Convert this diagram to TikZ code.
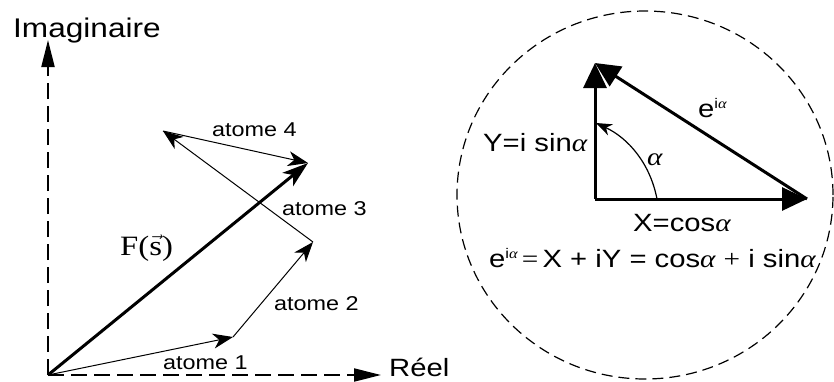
\documentclass[tikz,border=0pt]{standalone}
\usepackage{fontspec}
\setmainfont[FakeStretch=1.17]{Liberation Sans}
\newfontfamily\serifF[FakeStretch=1.17]{Liberation Serif}
\newcommand{\alp}{{\serifF\itshape α}}
\newcommand{\eia}{e\raisebox{9pt}{\fontsize{14}{14}\selectfont i\alp}}
\usetikzlibrary{arrows.meta,shapes.geometric}
\tikzset{
  axis/.style={line width=2pt, dash pattern=on 16pt off 7pt, -{Triangle[length=27pt,width=13pt]}},
  atom/.style={line width=1pt, -{Stealth[length=20pt,width=15pt,inset=6pt]}},
  resultant/.style={line width=3pt, -{Stealth[length=26pt,width=17pt,inset=7pt]}},
  tri/.style={line width=3pt, -{Triangle[length=25pt,width=23pt]}},
  lbl/.style={font=\fontsize{20}{22}\selectfont, inner sep=0pt, anchor=base west},
  rlbl/.style={font=\fontsize{25}{27}\selectfont, inner sep=0pt, anchor=base west},
  big/.style={font=\fontsize{27}{29}\selectfont, inner sep=0pt, anchor=base west},
}
\begin{document}
\begin{tikzpicture}[x=1pt,y=-1pt]
\useasboundingbox (0,0) rectangle (834,381);
% left part
\coordinate (O) at (48,375);
\coordinate (Itip) at (48,40);
\coordinate (Rtip) at (381,375);
\coordinate (A1) at (233,337);
\coordinate (A2) at (313,242);
\coordinate (A3) at (163,131);
\coordinate (A4) at (308,163);
\draw[axis] (O) -- (Itip);
\draw[axis] (O) -- (Rtip);
\draw[atom] (O) -- (A1);
\draw[atom] (A1) -- (A2);
\draw[atom] (A2) -- (A3);
\draw[atom] (A3) -- (A4);
\draw[resultant] (O) -- (A4);
\node[big] (im) at (13,37) {Imaginaire};
\node[big, font=\fontsize{25}{27}\selectfont] (re) at (389,376) {Réel};
\node[lbl] (l1) at (163,369) {atome 1};
\node[lbl] (l2) at (274,310) {atome 2};
\node[lbl] (l3) at (282,215) {atome 3};
\node[lbl] (l4) at (212,136) {atome 4};
\node[anchor=base west, inner sep=0pt, font=\serifF\fontsize{28}{30}\selectfont] (F) at (120,255) {F($\vec{\hbox{\serifF\fontsize{28}{30}\selectfont s}}$)};
% right part
\node[draw, line width=1.2pt, dash pattern=on 11pt off 6pt, ellipse, minimum width=376pt, minimum height=368pt, inner sep=0pt] (circ) at (645,195) {};
\coordinate (C) at (595,199);
\coordinate (T) at (595,63);
\coordinate (R) at (807,199);
\coordinate (arcA) at (657,199);
\coordinate (arcB) at (596,123);
\draw[tri] (C) -- (T);
\draw[tri] (C) -- (R);
\draw[tri] (R) -- (T);
\draw[line width=1.2pt, -{Stealth[length=16pt,width=12pt,inset=5pt]}] (arcA) .. controls (650,163) and (628,138) .. (arcB);
\node[rlbl] (eia) at (698,117) {\eia};
\node[rlbl] (Y) at (483,151) {Y=i sin\alp};
\node[rlbl] (al) at (647,165) {\alp};
\node[rlbl] (X) at (633,231) {X=cos\alp};
\node[rlbl] (eq) at (489,267) {\eia{\serifF\,=\,}X + iY = cos\alp\ {\serifF +} i sin\alp};
\end{tikzpicture}
\end{document}
